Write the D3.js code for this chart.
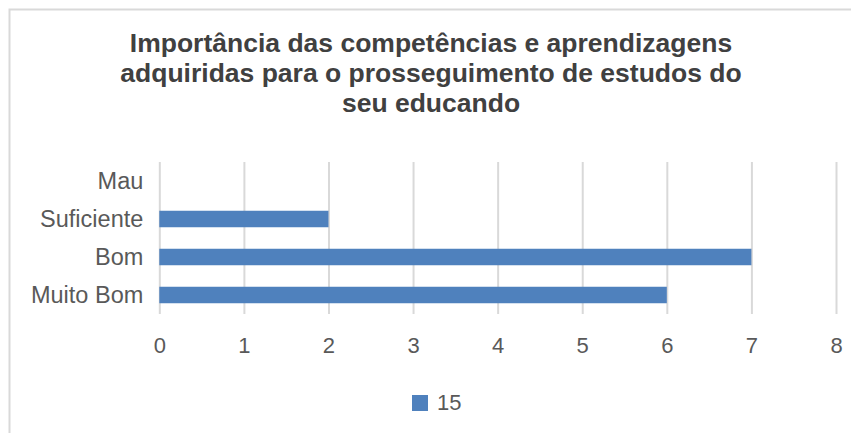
<!DOCTYPE html>
<html>
<head>
<meta charset="utf-8">
<script src="https://cdn.jsdelivr.net/npm/d3@7"></script>
<style>
  body { margin: 0; background: #fff; }
  svg { display: block; }
</style>
</head>
<body>
<div class="svg-class"></div>
<script>
// chart data
var categories = ["Mau", "Suficiente", "Bom", "Muito Bom"];
var values = [0, 2, 7, 6];
var tickValues = [0, 1, 2, 3, 4, 5, 6, 7, 8];
var seriesName = "15";
var titleLines = [
    "Importância das competências e aprendizagens",
    "adquiridas para o prosseguimento de estudos do",
    "seu educando"
];

var width = 851, height = 433;
var margin = { top: 162, right: 15, bottom: 119, left: 159.3 };
var barColor = "#4f81bd";

var svg = d3.select(".svg-class")
    .append("svg")
    .attr("width", width)
    .attr("height", height)
    .style("font-family", "'Liberation Sans', Arial, sans-serif");

// chart frame (only top and left edges are visible)
svg.append("rect")
    .attr("x", 9.5)
    .attr("y", 9.5)
    .attr("width", width + 20)
    .attr("height", height + 20)
    .attr("fill", "none")
    .attr("stroke", "#d9d9d9")
    .attr("stroke-width", 2);

// title
svg.append("text")
    .attr("text-anchor", "middle")
    .attr("fill", "#404040")
    .style("font-size", "26.5px")
    .style("font-weight", "bold")
    .selectAll("tspan")
    .data(titleLines)
    .enter()
    .append("tspan")
    .attr("x", 431)
    .attr("y", function (d, i) { return 52 + i * 30; })
    .text(function (d) { return d; });

var x = d3.scaleLinear()
    .domain([0, 8])
    .range([margin.left, width - margin.right]);

var y = d3.scaleBand()
    .domain(categories)
    .range([margin.top, height - margin.bottom])
    .paddingInner(0.566)
    .paddingOuter(0.283);

// vertical gridlines
svg.append("g")
    .attr("class", "grid")
    .attr("transform", "translate(0," + margin.top + ")")
    .call(d3.axisBottom(x)
        .tickValues(tickValues)
        .tickSize(height - margin.bottom - margin.top)
        .tickFormat(""))
    .call(function (g) { g.select(".domain").remove(); })
    .selectAll("line")
    .attr("stroke", "#d9d9d9")
    .attr("stroke-width", 2);

// bars
svg.selectAll(".bar")
    .data(values)
    .enter()
    .append("rect")
    .attr("class", "bar")
    .attr("x", x(0))
    .attr("y", function (d, i) { return y(categories[i]); })
    .attr("width", function (d) { return x(d) - x(0); })
    .attr("height", y.bandwidth())
    .attr("fill", barColor);

// category labels
var yAxis = svg.append("g")
    .attr("transform", "translate(" + (margin.left - 16) + ",0)")
    .call(d3.axisLeft(y).tickSize(0).tickPadding(0));
yAxis.select(".domain").remove();
yAxis.selectAll("text")
    .attr("fill", "#595959")
    .style("font-size", "23.5px")
    .style("font-family", "'Liberation Sans', Arial, sans-serif");

// x tick labels
var xAxis = svg.append("g")
    .attr("transform", "translate(0," + (height - margin.bottom) + ")")
    .call(d3.axisBottom(x).tickValues(tickValues).tickSize(0).tickPadding(23).tickFormat(d3.format("d")));
xAxis.select(".domain").remove();
xAxis.selectAll("text")
    .attr("fill", "#595959")
    .style("font-size", "22px")
    .style("font-family", "'Liberation Sans', Arial, sans-serif");

// legend
var legend = svg.append("g")
    .attr("transform", "translate(412,395)");
legend.append("rect")
    .attr("width", 16)
    .attr("height", 16)
    .attr("fill", barColor);
legend.append("text")
    .attr("x", 25)
    .attr("y", 14.5)
    .attr("fill", "#595959")
    .style("font-size", "22px")
    .text(seriesName);
</script>
</body>
</html>
